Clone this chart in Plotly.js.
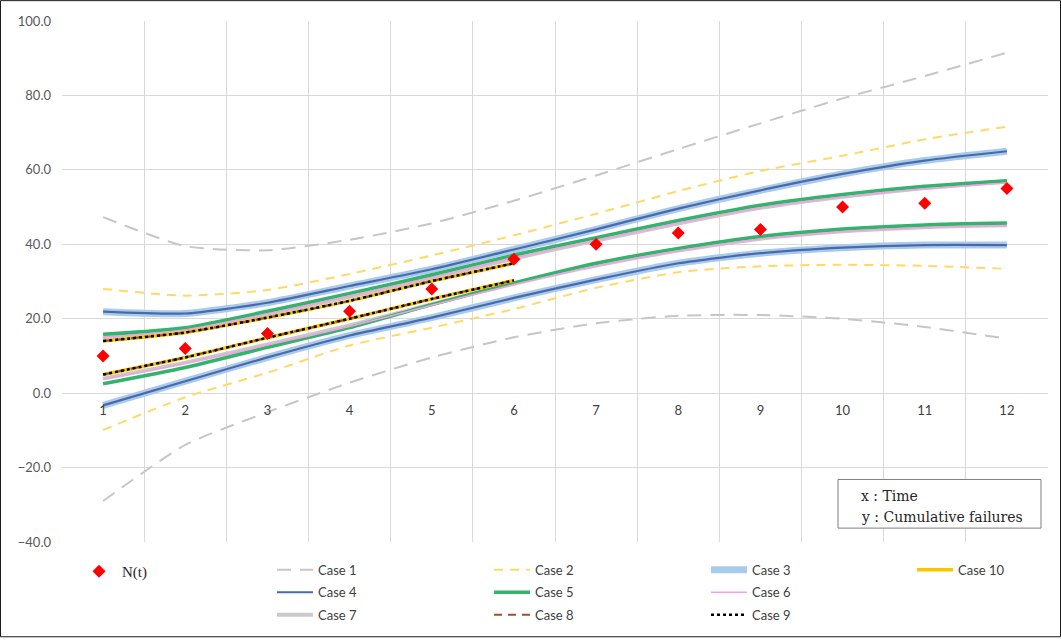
<!DOCTYPE html>
<html>
<head>
<meta charset="utf-8">
<script src="https://cdn.plot.ly/plotly-3.0.1.min.js"></script>
<style>
  html, body { margin: 0; padding: 0; background: #ffffff; }
  #chart { width: 1061px; height: 642px; }
</style>
</head>
<body>
<div id="chart"></div>
<script>
// Time points (x) and observed cumulative failures N(t)
const times = ['1', '2', '3', '4', '5', '6', '7', '8', '9', '10', '11', '12'];
const observed = [10, 12, 16, 22, 28, 36, 40, 43, 44, 50, 51, 55];

// Upper / lower bounds for each case
const case1Upper = [47.3, 39.5, 38.4, 41.2, 45.6, 51.7, 58.5, 65.6, 72.5, 79.2, 85.2, 91.5];
const case1Lower = [-29.0, -13.9, -5.1, 2.8, 9.6, 15.0, 18.8, 20.8, 21.0, 20.0, 17.8, 14.6];

const case2Upper = [28.0, 26.2, 27.7, 32.0, 37.0, 42.4, 48.2, 54.3, 59.7, 63.8, 68.2, 71.6];
const case2Lower = [-9.9, -1.1, 5.5, 12.8, 17.6, 22.6, 28.3, 32.5, 34.1, 34.5, 34.2, 33.4];

const case3Upper = [21.9, 21.4, 24.3, 28.8, 33.3, 38.6, 44.0, 49.6, 54.5, 58.9, 62.5, 65.0];
const case3Lower = [-3.3, 3.2, 9.6, 15.5, 20.3, 25.6, 30.5, 34.9, 37.6, 39.1, 39.8, 39.8];

const case4Upper = [21.9, 21.4, 24.3, 28.8, 33.3, 38.6, 44.0, 49.6, 54.5, 58.9, 62.5, 65.0];
const case4Lower = [-3.3, 3.2, 9.6, 15.5, 20.3, 25.6, 30.5, 34.9, 37.6, 39.1, 39.8, 39.8];

const case5Upper = [15.8, 17.6, 22.0, 26.8, 31.8, 37.1, 41.8, 46.4, 50.5, 53.4, 55.6, 57.1];
const case5Lower = [2.5, 6.9, 12.3, 17.6, 23.8, 29.6, 34.9, 38.9, 42.1, 44.1, 45.2, 45.7];

const case6Upper = [15.0, 17.0, 21.3, 26.1, 31.1, 36.4, 41.1, 45.7, 49.8, 52.7, 54.9, 56.5];
const case6Lower = [3.7, 8.0, 12.9, 17.9, 23.6, 29.2, 34.2, 38.2, 41.4, 43.4, 44.5, 45.0];

const case7Upper = [14.8, 16.9, 21.1, 25.9, 30.9, 36.2, 41.0, 45.6, 49.8, 52.8, 55.1, 56.9];
const case7Lower = [3.9, 8.2, 13.1, 18.2, 23.9, 29.4, 34.3, 38.3, 41.5, 43.5, 44.6, 45.1];

// Cases 8-10 cover the first six time points only
const case8Upper = [14.0, 16.3, 20.3, 24.8, 30.1, 34.9];
const case8Lower = [5.0, 9.6, 14.9, 20.0, 25.3, 30.3];
const case9Upper = [14.0, 16.3, 20.3, 24.8, 30.1, 34.9];
const case9Lower = [5.0, 9.6, 14.9, 20.0, 25.3, 30.3];
const case10Upper = [14.0, 16.3, 20.3, 24.8, 30.1, 34.9];
const case10Lower = [5.0, 9.6, 14.9, 20.0, 25.3, 30.3];

// Join upper and lower bound into one broken line so each case has one legend entry
function band(upper, lower) {
  const xs = times.slice(0, upper.length);
  return {
    x: xs.concat([xs[0]], xs),
    y: upper.concat([null], lower)
  };
}

function caseTrace(name, upper, lower, line, legend, rank) {
  const b = band(upper, lower);
  return {
    type: 'scatter', mode: 'lines', name: name,
    x: b.x, y: b.y, connectgaps: false,
    line: Object.assign({ shape: 'spline', smoothing: 0.6 }, line),
    legend: legend, legendrank: rank, legendgroup: name,
    hoverinfo: 'skip'
  };
}

const traces = [
  caseTrace('Case 1', case1Upper, case1Lower, { color: '#c6c6c6', width: 2, dash: '14px,9px' }, 'legend2', 1),
  caseTrace('Case 2', case2Upper, case2Lower, { color: '#ffd966', width: 2, dash: '9px,7px' }, 'legend3', 1),
  caseTrace('Case 3', case3Upper, case3Lower, { color: '#a9cbea', width: 7 }, 'legend4', 1),
  caseTrace('Case 4', case4Upper, case4Lower, { color: '#4a69ad', width: 2.2 }, 'legend2', 2),
  caseTrace('Case 7', case7Upper, case7Lower, { color: '#c9c9c9', width: 4 }, 'legend2', 3),
  caseTrace('Case 5', case5Upper, case5Lower, { color: '#33b36b', width: 3.5 }, 'legend3', 2),
  caseTrace('Case 6', case6Upper, case6Lower, { color: '#f4a0e6', width: 1.5 }, 'legend4', 2),
  caseTrace('Case 10', case10Upper, case10Lower, { color: '#f7c600', width: 3.5 }, 'legend5', 1),
  caseTrace('Case 8', case8Upper, case8Lower, { color: '#a0522d', width: 2, dash: '8px,6px' }, 'legend3', 3),
  caseTrace('Case 9', case9Upper, case9Lower, { color: '#000000', width: 2.5, dash: 'dot' }, 'legend4', 3),
  {
    type: 'scatter', mode: 'markers', name: 'N(t)',
    x: times, y: observed,
    marker: { symbol: 'diamond', size: 10, color: '#ff0000' },
    legend: 'legend', legendgroup: 'N(t)', hoverinfo: 'skip'
  }
];

// Plot area in pixels: left 62, right 1048, top 21, bottom 546
const plotL = 62, plotW = 986, plotB = 546, plotH = 525;
const px = v => (v - plotL) / plotW;
const py = v => (plotB - v) / plotH;

const legendFont = { family: 'Lato, "Open Sans", sans-serif', size: 13, color: '#404040' };
function legendAt(x, extra) {
  return Object.assign({
    x: px(x), y: py(559), xanchor: 'left', yanchor: 'top',
    orientation: 'v', bgcolor: 'rgba(0,0,0,0)', borderwidth: 0,
    font: legendFont, tracegroupgap: 2.5, itemwidth: 36,
    itemclick: false, itemdoubleclick: false
  }, extra || {});
}

const layout = {
  width: 1061, height: 642,
  margin: { l: 62, r: 13, t: 21, b: 96, pad: 0 },
  paper_bgcolor: '#ffffff', plot_bgcolor: '#ffffff',
  showlegend: true,
  xaxis: {
    type: 'category', range: [-0.5, 11.5],
    tickson: 'boundaries', showgrid: true, gridcolor: '#d9d9d9', gridwidth: 1,
    anchor: 'free', position: py(396),
    showline: false, zeroline: false, ticks: '', ticklabelstandoff: 8,
    tickfont: { family: 'Lato, "Open Sans", sans-serif', size: 13, color: '#404040' },
    automargin: false, fixedrange: true
  },
  yaxis: {
    range: [-40, 100], dtick: 20, tick0: 0, tickformat: '.1f',
    showgrid: true, gridcolor: '#d9d9d9', gridwidth: 1,
    zeroline: false, showline: false, ticks: '', ticklabelstandoff: 10,
    tickfont: { family: 'Lato, "Open Sans", sans-serif', size: 13, color: '#595959' },
    automargin: false, fixedrange: true
  },
  legend: legendAt(76, { font: { family: '"Liberation Serif", "DejaVu Serif", serif', size: 15, color: '#262626' } }),
  legend2: legendAt(272),
  legend3: legendAt(489),
  legend4: legendAt(706),
  legend5: legendAt(912),
  shapes: [
    // axis note box
    { type: 'rect', xref: 'paper', yref: 'paper', layer: 'above',
      x0: px(838), x1: px(1041), y0: py(532), y1: py(483),
      line: { color: '#7f7f7f', width: 1 }, fillcolor: '#ffffff' },
    // chart frame
    { type: 'rect', xref: 'paper', yref: 'paper', layer: 'above',
      x0: px(0.5), x1: px(1060.5), y0: py(641.5), y1: py(0.5),
      line: { color: '#1a1a1a', width: 1 }, fillcolor: 'rgba(0,0,0,0)' }
  ],
  annotations: [
    { xref: 'paper', yref: 'paper', x: px(859), y: py(500), xanchor: 'left', yanchor: 'middle',
      text: 'x : Time', showarrow: false,
      font: { family: '"DejaVu Serif", serif', size: 14, color: '#262626' } },
    { xref: 'paper', yref: 'paper', x: px(859), y: py(521), xanchor: 'left', yanchor: 'middle',
      text: 'y : Cumulative failures', showarrow: false,
      font: { family: '"DejaVu Serif", serif', size: 14, color: '#262626' } }
  ]
};

Plotly.newPlot('chart', traces, layout, { staticPlot: true, displayModeBar: false });
</script>
</body>
</html>
